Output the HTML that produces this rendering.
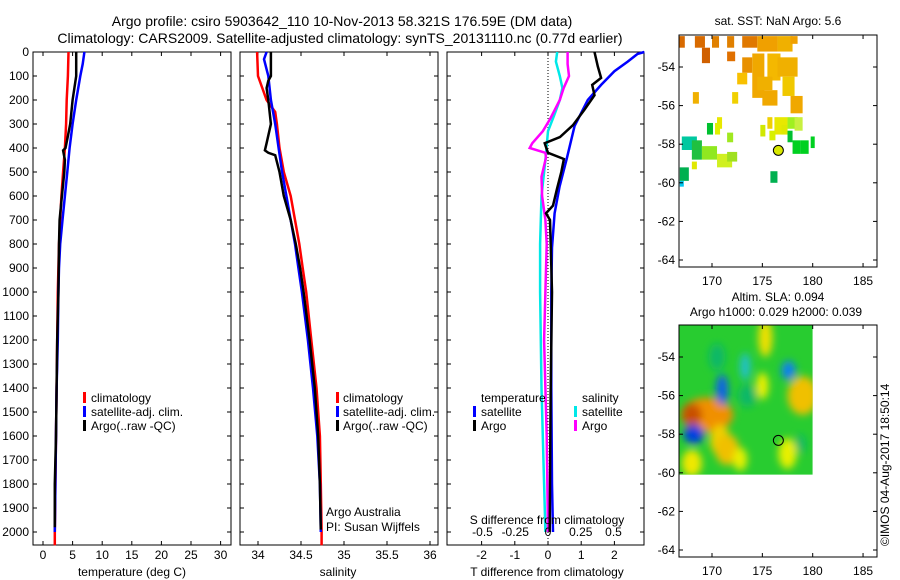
<!DOCTYPE html>
<html><head><meta charset="utf-8"><style>
body{margin:0;background:#fff}
svg{display:block;font-family:"Liberation Sans",sans-serif}
</style></head><body>
<svg id="fig" width="900" height="580" xmlns="http://www.w3.org/2000/svg">
<text x="342" y="26" font-size="14" text-anchor="middle">Argo profile: csiro 5903642_110 10-Nov-2013 58.321S 176.59E (DM data)</text>
<text x="340" y="43" font-size="14" text-anchor="middle">Climatology: CARS2009. Satellite-adjusted climatology: synTS_20131110.nc (0.77d earlier)</text>
<text x="778" y="25" font-size="12" text-anchor="middle">sat. SST: NaN Argo: 5.6</text>
<text x="778" y="301" font-size="12" text-anchor="middle">Altim. SLA: 0.094</text>
<text x="776" y="316" font-size="12" text-anchor="middle">Argo h1000: 0.029 h2000: 0.039</text>
<text transform="translate(889,546) rotate(-90)" font-size="12">©IMOS 04-Aug-2017 18:50:14</text>
</svg>
<script>
// ---- data ----
const depthTicks=[0,100,200,300,400,500,600,700,800,900,1000,1100,1200,1300,1400,1500,1600,1700,1800,1900,2000];
const tempTicks=[0,5,10,15,20,25,30];
const salTicks=[34,34.5,35,35.5,36];
const tdiffTicks=[-2,-1,0,1,2];
const sdiffTicks=[-0.5,-0.25,0,0.25,0.5];
const sdiffLabels=["-0.5","-0.25","0","0.25","0.5"];
const lonTicks=[170,175,180,185];
const latTicks=[-54,-56,-58,-60,-62,-64];

const tClimP=[0,100,200,300,400,500,600,700,800,900,1000,1200,1400,1600,1800,2000,2055];
const tClimV=[4.3,4.2,4.0,3.9,3.7,3.4,3.1,2.9,2.7,2.6,2.5,2.4,2.3,2.2,2.1,2.0,2.0];
const tSatP=[0,50,100,200,300,400,500,600,700,800,900,1000,1200,1400,1600,1800,2000];
const tSatV=[7.0,6.7,6.3,5.6,5.0,4.5,4.1,3.7,3.3,2.9,2.7,2.6,2.5,2.3,2.2,2.1,2.0];
const tArgoP=[0,100,150,200,300,350,400,410,450,500,600,700,800,1000,1200,1400,1600,1800,1980];
const tArgoV=[5.6,5.6,5.3,5.0,4.6,4.2,3.8,3.4,3.7,3.6,3.2,2.8,2.7,2.6,2.4,2.3,2.2,2.0,2.0];

const sClimP=[0,100,150,200,250,300,400,500,600,700,800,900,1000,1200,1400,1600,1800,2000,2055];
const sClimV=[33.99,34.0,34.05,34.1,34.2,34.22,34.25,34.3,34.38,34.43,34.48,34.52,34.56,34.62,34.68,34.72,34.73,34.74,34.74];
const sSatP=[0,30,100,200,300,400,500,600,700,800,900,1000,1200,1400,1600,1800,2000];
const sSatV=[34.1,34.07,34.12,34.15,34.2,34.24,34.28,34.33,34.38,34.43,34.47,34.51,34.58,34.64,34.69,34.72,34.73];
const sArgoP=[0,100,120,150,200,300,380,410,420,430,500,600,700,800,900,1000,1200,1400,1600,1800,1990];
const sArgoV=[34.15,34.15,34.12,34.1,34.12,34.15,34.1,34.08,34.12,34.2,34.25,34.3,34.38,34.44,34.49,34.53,34.6,34.66,34.7,34.72,34.73];

const dTSatP=[0,8,40,80,137,200,308,442,560,672,815,1000,1400,1800,2000];
const dTSatV=[2.9,2.7,2.4,2.0,1.6,1.2,0.8,0.57,0.35,0.2,0.12,0.1,0.1,0.12,0.15];
const dTArgoP=[0,60,108,137,180,240,305,354,380,400,420,446,500,570,640,672,700,800,1000,1400,1800,2000];
const dTArgoV=[1.4,1.5,1.6,1.33,1.4,1.1,0.75,0.36,-0.1,-0.05,0.0,0.48,0.4,0.27,0.15,-0.06,0.06,0.08,0.12,0.08,0.06,0.05];
const dSSatP=[0,40,100,150,200,260,330,450,600,800,1000,1400,1800,2000];
const dSSatV=[0.07,0.06,0.09,0.11,0.09,0.05,0.0,-0.02,-0.05,-0.06,-0.06,-0.05,-0.03,-0.02];
const dSArgoP=[0,50,100,150,200,280,330,380,400,420,440,520,600,700,800,1000,1200,1600,2000];
const dSArgoV=[0.15,0.15,0.16,0.12,0.09,0.015,-0.04,-0.12,-0.14,-0.02,-0.015,-0.05,-0.045,-0.02,-0.01,-0.02,-0.03,-0.01,0.0];

// SST patches: lon0, lon1, lat0, lat1, colour
const sstLon0=[166.7,168.3,169.0,170.0,171.5,173.0,174.5,176.5,177.8,171.5,173.0,174.0,175.5,176.5,172.5,174.5,177.0,175.0,177.8,168.1,172.0,170.5,175.5,176.2,177.5,178.2,169.5,170.3,174.8,175.7,176.9,177.5,171.5,178.0,178.8,179.8,175.8,167.0,168.0,169.0,170.5,171.5,166.8,166.8,168.0];
const sstLon1=[167.3,169.3,169.8,170.7,172.2,174.5,176.5,178.0,178.5,172.3,174.0,175.2,176.8,178.5,173.5,176.0,178.2,176.5,179.0,168.7,172.6,171.0,176.0,177.5,178.5,179.0,170.1,170.8,175.3,176.3,177.5,178.0,172.1,178.8,179.6,180.2,176.5,168.5,169.0,170.5,172.0,172.5,167.7,167.2,168.5];
const sstLat0=[-52.4,-52.4,-53.0,-52.4,-52.4,-52.4,-52.4,-52.4,-52.4,-53.2,-53.5,-53.3,-53.3,-53.5,-54.3,-54.5,-54.5,-55.2,-55.5,-55.3,-55.3,-56.6,-56.6,-56.6,-56.6,-56.6,-56.9,-56.9,-57.0,-57.3,-57.0,-57.3,-57.4,-57.8,-57.8,-57.6,-59.4,-57.6,-57.8,-58.1,-58.5,-58.4,-59.2,-59.9,-58.9];
const sstLat1=[-53.0,-53.0,-53.8,-53.0,-53.0,-53.0,-53.2,-53.2,-52.8,-53.7,-54.3,-55.6,-54.7,-54.5,-54.9,-55.2,-55.5,-56.0,-56.4,-55.9,-55.9,-57.2,-57.2,-57.5,-57.2,-57.3,-57.5,-57.5,-57.6,-57.8,-57.5,-57.9,-57.9,-58.5,-58.5,-58.2,-60.0,-58.3,-58.8,-58.8,-59.2,-58.9,-59.9,-60.2,-59.3];
const sstCol=["#d86a00","#d86a00","#d06000","#e08000","#e08000","#e07800","#f0a000","#f0b000","#f0a000","#e07000","#e89000","#f0a800","#f4b800","#f0b000","#f8c000","#f0b000","#f0c800","#f0a800","#f0a800","#f0b000","#f0d000","#e8e800","#f0d000","#e8e800","#a0f020","#c8f040","#00c030","#e0f000","#d0e800","#d8f000","#e0e800","#00c030","#a0e820","#00d020","#00d020","#00d020","#00b050","#00c8a0","#20c040","#90e820","#d0f020","#a0e020","#00b050","#00c8f0","#e0e800"];

// SLA anomalies: lon, lat, rx(deg), ry(deg), colour
const slaLon=[169.5,168.0,170.8,171.5,177.6,175.3,173.3,168.0,179.0,177.5,173.5,170.5,175.0,172.8,178.8,168.2,171.0];
const slaLat=[-57.0,-57.0,-58.3,-58.8,-54.7,-53.0,-54.5,-59.5,-56.0,-59.0,-56.0,-54.0,-55.5,-59.3,-58.5,-58.0,-55.7];
const slaRx=[2.6,1.0,1.0,1.2,0.7,0.7,0.5,1.0,1.5,0.9,0.9,0.8,0.6,0.7,0.5,1.0,0.6];
const slaRy=[0.9,0.6,0.8,0.8,0.5,1.0,0.7,0.7,1.0,0.8,0.6,0.7,0.7,0.6,0.5,0.5,0.8];
const slaCol=["#f09000","#c85000","#f0d000","#f0c000","#1080f0","#f0e000","#20c0d0","#f0e800","#f0c000","#e8f000","#10b868","#10b868","#f0f000","#e8f000","#10b868","#0040e0","#1060e8"];

const argoLon=176.59, argoLat=-58.32;

// ---- drawing ----
const NS="http://www.w3.org/2000/svg";
const svg=document.getElementById('fig');
function mk(tag,attrs,parent){const e=document.createElementNS(NS,tag);for(const k in attrs)e.setAttribute(k,attrs[k]);(parent||svg).appendChild(e);return e;}
const yD=p=>52+p*0.24;
const panelTop=52,panelBot=545;

function panel(x0,x1,name){
  const g=mk('g',{});
  
  
  const r=mk('rect',{x:x0,y:panelTop,width:x1-x0,height:panelBot-panelTop,fill:'none',stroke:'#000','stroke-width':1},g);
  
  
  depthTicks.forEach(d=>{
    const y=yD(d);
    mk('line',{x1:x0,x2:x0+4,y1:y,y2:y,stroke:'#000'},g);
    mk('line',{x1:x1-4,x2:x1,y1:y,y2:y,stroke:'#000'},g);
  });
  return g;
}
function xTicks(g,vals,labels,fx,y,name){
  vals.forEach((v,i)=>{
    const x=fx(v);
    mk('line',{x1:x,x2:x,y1:panelBot-4,y2:panelBot,stroke:'#000'},g);
    mk('line',{x1:x,x2:x,y1:panelTop,y2:panelTop+4,stroke:'#000'},g);
    const t=mk('text',{x:x,y:y,'font-size':12,'text-anchor':'middle'},g);
    t.textContent=labels[i];
    
    
  });
}
function line(g,P,V,fx,col,name,w){
  const pts=P.map((p,i)=>fx(V[i]).toFixed(1)+','+yD(p).toFixed(1)).join(' ');
  const l=mk('polyline',{points:pts,fill:'none',stroke:col,'stroke-width':w||2.5,'stroke-linejoin':'miter'},g);
  
  
}
function txt(g,x,y,s,name,anchor){
  const t=mk('text',{x:x,y:y,'font-size':12,'text-anchor':anchor||'start'},g);
  t.textContent=s;
  
  
  return t;
}
function legBar(g,x,y,col,name){
  const r=mk('rect',{x:x,y:y-10,width:3,height:11,fill:col},g);
  
  
}

// Panel 1: temperature
const xT=v=>43+v*5.92;
const g1=panel(33,231,'temperature-panel');
depthTicks.forEach(d=>{txt(g1,29,yD(d)+4,String(d),'depth-tick-label','end');});
xTicks(g1,tempTicks,tempTicks.map(String),xT,559,'temperature');
txt(g1,132,576,'temperature (deg C)','temperature-axis-title','middle');
line(g1,tClimP,tClimV,xT,'#ff0000','temp-climatology-line');
line(g1,tSatP,tSatV,xT,'#0000ff','temp-satellite-line');
line(g1,tArgoP,tArgoV,xT,'#000000','temp-argo-line');
[['#ff0000','climatology'],['#0000ff','satellite-adj. clim.'],['#000000','Argo(..raw -QC)']].forEach((e,i)=>{
  legBar(g1,83,402+i*14,e[0],'temp-legend-swatch');txt(g1,91,402+i*14,e[1],'temp-legend-entry');});

// Panel 2: salinity
const xS=v=>258+(v-34)*86;
const g2=panel(240,438,'salinity-panel');
xTicks(g2,salTicks,["34","34.5","35","35.5","36"],xS,559,'salinity');
txt(g2,338,576,'salinity','salinity-axis-title','middle');
line(g2,sClimP,sClimV,xS,'#ff0000','sal-climatology-line');
line(g2,sSatP,sSatV,xS,'#0000ff','sal-satellite-line');
line(g2,sArgoP,sArgoV,xS,'#000000','sal-argo-line');
[['#ff0000','climatology'],['#0000ff','satellite-adj. clim.'],['#000000','Argo(..raw -QC)']].forEach((e,i)=>{
  legBar(g2,336,402+i*14,e[0],'sal-legend-swatch');txt(g2,343,402+i*14,e[1],'sal-legend-entry');});
txt(g2,326,516,'Argo Australia','credit-argo-australia');
txt(g2,326,531,'PI: Susan Wijffels','credit-pi');

// Panel 3: differences
const xDT=v=>548+v*33.2;
const xDS=v=>548+v*131;
const g3=panel(447,644,'difference-panel');
mk('line',{x1:548,x2:548,y1:panelTop,y2:panelBot,stroke:'#000','stroke-dasharray':'1,2'},g3);
xTicks(g3,tdiffTicks,tdiffTicks.map(String),xDT,559,'tdiff');
line(g3,dSSatP,dSSatV,xDS,'#00e8e8','sdiff-satellite-line');
line(g3,dSArgoP,dSArgoV,xDS,'#ff00ff','sdiff-argo-line');
line(g3,dTSatP,dTSatV,xDT,'#0000ff','tdiff-satellite-line');
line(g3,dTArgoP,dTArgoV,xDT,'#000000','tdiff-argo-line');
sdiffTicks.forEach((v,i)=>{txt(g3,xDS(v),536,sdiffLabels[i],'sdiff-tick-label','middle');});
txt(g3,547,524,'S difference from climatology','sdiff-axis-title','middle');
txt(g3,547,576,'T difference from climatology','tdiff-axis-title','middle');
txt(g3,481,402,'temperature','tdiff-legend-heading');
txt(g3,582,402,'salinity','sdiff-legend-heading');
legBar(g3,473,416,'#0000ff','tdiff-legend-swatch');txt(g3,481,416,'satellite','tdiff-legend-entry');
legBar(g3,473,430,'#000000','tdiff-legend-swatch');txt(g3,481,430,'Argo','tdiff-legend-entry');
legBar(g3,574,416,'#00e8e8','sdiff-legend-swatch');txt(g3,582,416,'satellite','sdiff-legend-entry');
legBar(g3,574,430,'#ff00ff','sdiff-legend-swatch');txt(g3,582,430,'Argo','sdiff-legend-entry');

// Maps
const mx=lon=>712+(lon-170)*10.07;
function mapFrame(off,name){
  const my=lat=>off+67+(-54-lat)*19.3;
  const g=mk('g',{});
  
  
  return {g,my};
}
function mapAxes(m,off,name){
  const g=m.g,my=m.my;
  const r=mk('rect',{x:679,y:off+35,width:198,height:232,fill:'none',stroke:'#000'},g);
  
  
  lonTicks.forEach(v=>{const x=mx(v);
    mk('line',{x1:x,x2:x,y1:off+267,y2:off+263,stroke:'#000'},g);
    mk('line',{x1:x,x2:x,y1:off+35,y2:off+39,stroke:'#000'},g);
    txt(g,x,off+285,String(v),name+'-lon-label','middle');});
  latTicks.forEach(v=>{const y=my(v);
    mk('line',{x1:679,x2:683,y1:y,y2:y,stroke:'#000'},g);
    mk('line',{x1:873,x2:877,y1:y,y2:y,stroke:'#000'},g);
    txt(g,675,y+4,String(v),name+'-lat-label','end');});
  const c=mk('circle',{cx:mx(argoLon),cy:my(argoLat),r:5,fill:'none',stroke:'#000'},g);
  
  
  return c;
}
// SST map
const m1=mapFrame(0,'sst-map');
sstLon0.forEach((l,i)=>{
  const x0=mx(Math.max(l,166.75)),x1=mx(sstLon1[i]);
  const y0=m1.my(Math.min(sstLat0[i],-52.35)),y1=m1.my(sstLat1[i]);
  const r=mk('rect',{x:x0,y:y0,width:x1-x0,height:y1-y0,fill:sstCol[i]},m1.g);
  
  
});
const c1=mapAxes(m1,0,'sst-map');c1.setAttribute('fill','#d8e800');

// SLA map
const m2=mapFrame(290,'sla-map');
const defs=mk('defs',{});
mk('clipPath',{id:'slaclip'},defs);
mk('rect',{x:679,y:325,width:mx(180)-679,height:m2.my(-60.1)-325},defs.lastChild);
const fl=mk('filter',{id:'blur',x:'-50%',y:'-50%',width:'200%',height:'200%'},defs);
mk('feGaussianBlur',{stdDeviation:4},fl);
const sg=mk('g',{'clip-path':'url(#slaclip)'},m2.g);
const bg=mk('rect',{x:679,y:325,width:mx(180)-679,height:m2.my(-60.1)-325,fill:'#28cc30'},sg);


const bl=mk('g',{filter:'url(#blur)'},sg);
slaLon.forEach((l,i)=>{
  const e=mk('ellipse',{cx:mx(l),cy:m2.my(slaLat[i]),rx:slaRx[i]*10.07,ry:slaRy[i]*19.3,fill:slaCol[i]},bl);
  
  
});
mapAxes(m2,290,'sla-map');
</script>
</body></html>
